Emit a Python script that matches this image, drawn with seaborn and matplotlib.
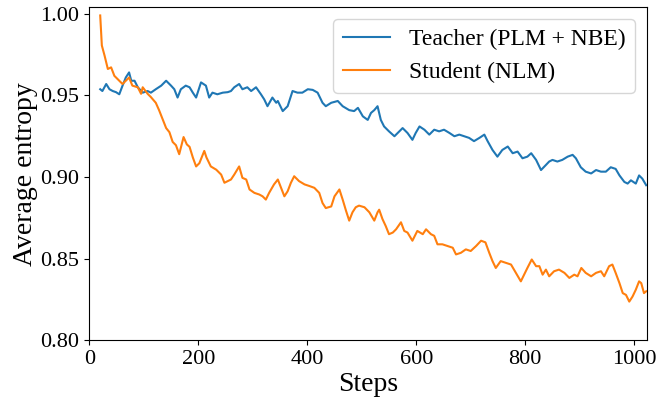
import matplotlib
matplotlib.use("Agg")
import matplotlib.pyplot as plt
import seaborn as sns
import pandas as pd

series_names = ["Teacher (PLM + NBE)", "Student (NLM)"]
series_colors = ["#1f77b4", "#ff7f0e"]

teacher_steps = [20, 24, 31, 37, 43, 49, 55, 61, 67, 73, 77, 83, 89, 98, 107, 113, 122, 132, 141, 150,
                 156, 162, 168, 177, 184, 190, 196, 205, 214, 220, 226, 235, 245, 254, 260, 266, 275, 281, 290, 297,
                 306, 315, 321, 327, 336, 343, 346, 355, 364, 373, 382, 391, 401, 410, 419, 428, 434, 444, 456, 465,
                 477, 486, 493, 502, 511, 517, 523, 529, 535, 541, 550, 560, 569, 575, 584, 593, 599, 606, 615, 624,
                 633, 642, 651, 661, 670, 679, 688, 697, 706, 716, 725, 731, 740, 749, 758, 768, 777, 786, 795, 804,
                 811, 820, 829, 838, 844, 850, 859, 868, 878, 887, 893, 902, 911, 921, 930, 939, 948, 957, 966, 973,
                 982, 988, 994, 1003, 1009, 1015, 1022]
teacher_entropy = [0.9538, 0.9527, 0.9570, 0.9538, 0.9527, 0.9520, 0.9507, 0.9560, 0.9610, 0.9641,
                   0.9590, 0.9590, 0.9550, 0.9517, 0.9527, 0.9517, 0.9538, 0.9560, 0.9590, 0.9560,
                   0.9538, 0.9487, 0.9538, 0.9560, 0.9550, 0.9517, 0.9487, 0.9580, 0.9560, 0.9487,
                   0.9517, 0.9507, 0.9517, 0.9520, 0.9527, 0.9550, 0.9570, 0.9538, 0.9550, 0.9527,
                   0.9550, 0.9507, 0.9476, 0.9434, 0.9487, 0.9455, 0.9466, 0.9404, 0.9434, 0.9527,
                   0.9517, 0.9517, 0.9538, 0.9534, 0.9517, 0.9455, 0.9434, 0.9455, 0.9466, 0.9434,
                   0.9410, 0.9404, 0.9424, 0.9372, 0.9350, 0.9393, 0.9410, 0.9434, 0.9350, 0.9310,
                   0.9280, 0.9250, 0.9280, 0.9300, 0.9270, 0.9228, 0.9270, 0.9310, 0.9290, 0.9260,
                   0.9290, 0.9280, 0.9290, 0.9270, 0.9250, 0.9260, 0.9250, 0.9240, 0.9220, 0.9240,
                   0.9260, 0.9220, 0.9166, 0.9125, 0.9166, 0.9187, 0.9146, 0.9156, 0.9115, 0.9125,
                   0.9146, 0.9105, 0.9043, 0.9074, 0.9095, 0.9105, 0.9095, 0.9105, 0.9125, 0.9136,
                   0.9115, 0.9060, 0.9033, 0.9022, 0.9043, 0.9033, 0.9033, 0.9060, 0.9050, 0.9010,
                   0.8970, 0.8960, 0.8980, 0.8960, 0.9010, 0.8990, 0.8950]

student_steps = [20, 23, 28, 34, 40, 46, 55, 61, 67, 73, 79, 89, 95, 98, 107, 113, 122, 128, 135, 141,
                 147, 153, 159, 165, 173, 179, 184, 190, 196, 202, 211, 215, 223, 233, 242, 248, 260, 266, 275, 281,
                 288, 294, 303, 312, 318, 324, 330, 339, 346, 352, 358, 364, 370, 376, 385, 395, 404, 413, 422, 428,
                 434, 444, 450, 459, 465, 471, 477, 483, 489, 495, 505, 514, 523, 529, 532, 538, 544, 550, 557, 563,
                 572, 578, 584, 593, 602, 612, 618, 627, 633, 639, 648, 657, 667, 673, 682, 691, 700, 710, 719, 727,
                 734, 740, 746, 755, 765, 774, 783, 792, 798, 804, 812, 820, 826, 832, 838, 844, 853, 862, 872, 881,
                 890, 896, 903, 911, 921, 930, 939, 945, 954, 960, 966, 973, 979, 985, 991, 997, 1003, 1009, 1013, 1018,
                 1022]
student_entropy = [0.9990, 0.9806, 0.9744, 0.9662, 0.9672, 0.9620, 0.9590, 0.9570, 0.9590, 0.9610,
                   0.9560, 0.9550, 0.9510, 0.9550, 0.9510, 0.9490, 0.9455, 0.9410, 0.9350, 0.9300,
                   0.9275, 0.9215, 0.9195, 0.9140, 0.9245, 0.9200, 0.9185, 0.9120, 0.9065, 0.9085,
                   0.9160, 0.9120, 0.9065, 0.9045, 0.9015, 0.8965, 0.8985, 0.9015, 0.9065, 0.8995,
                   0.8985, 0.8924, 0.8903, 0.8893, 0.8882, 0.8862, 0.8903, 0.8955, 0.8985, 0.8934,
                   0.8882, 0.8913, 0.8965, 0.9005, 0.8975, 0.8955, 0.8945, 0.8934, 0.8903, 0.8841,
                   0.8810, 0.8820, 0.8882, 0.8924, 0.8862, 0.8795, 0.8733, 0.8784, 0.8815, 0.8825,
                   0.8815, 0.8784, 0.8733, 0.8784, 0.8800, 0.8743, 0.8700, 0.8650, 0.8660, 0.8680,
                   0.8723, 0.8670, 0.8660, 0.8610, 0.8670, 0.8650, 0.8680, 0.8650, 0.8640, 0.8588,
                   0.8588, 0.8578, 0.8567, 0.8526, 0.8536, 0.8557, 0.8547, 0.8578, 0.8610, 0.8600,
                   0.8536, 0.8485, 0.8443, 0.8485, 0.8474, 0.8464, 0.8413, 0.8361, 0.8402, 0.8443,
                   0.8495, 0.8454, 0.8454, 0.8402, 0.8433, 0.8392, 0.8423, 0.8433, 0.8413, 0.8382,
                   0.8402, 0.8392, 0.8443, 0.8413, 0.8392, 0.8413, 0.8423, 0.8392, 0.8454, 0.8464,
                   0.8413, 0.8350, 0.8289, 0.8278, 0.8237, 0.8268, 0.8310, 0.8361, 0.8350, 0.8289,
                   0.8300]

x_ticks = [0, 200, 400, 600, 800, 1000]
y_ticks = [0.80, 0.85, 0.90, 0.95, 1.00]

plt.rcParams["font.family"] = ["Liberation Serif", "DejaVu Serif"]

df = pd.concat([
    pd.DataFrame({"step": teacher_steps, "entropy": teacher_entropy, "model": series_names[0]}),
    pd.DataFrame({"step": student_steps, "entropy": student_entropy, "model": series_names[1]}),
], ignore_index=True)

fig = plt.figure(figsize=(6.71, 3.98), dpi=100)
ax = fig.add_axes([0.1331, 0.1450, 0.8307, 0.8367])

sns.lineplot(data=df, x="step", y="entropy", hue="model", hue_order=series_names,
             palette=series_colors, estimator=None, sort=False, linewidth=1.5, ax=ax)

ax.set_xlim(0, 1023)
ax.set_ylim(0.80, 1.004)
ax.set_xticks(x_ticks)
ax.set_yticks(y_ticks)
ax.set_yticklabels([f"{v:.2f}" for v in y_ticks])
ax.tick_params(labelsize=16)
ax.set_xlabel("Steps", fontsize=20, labelpad=2)
ax.set_ylabel("Average entropy", fontsize=20, labelpad=2)

handles, labels = ax.get_legend_handles_labels()
ax.legend(handles, labels, loc="upper right", fontsize=17)

fig.savefig("out.png", dpi=100)
